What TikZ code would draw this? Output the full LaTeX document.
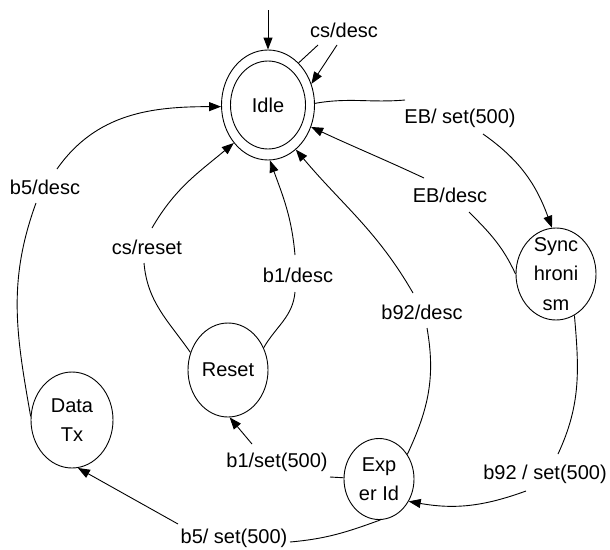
\documentclass[tikz,border=0pt]{standalone}
\usepackage{fontspec}
\setmainfont{Liberation Sans}
\usetikzlibrary{shapes.geometric,arrows.meta}
\begin{document}
\begin{tikzpicture}[x=1pt,y=1pt,
  every node/.style={font=\fontsize{20}{29.5}\selectfont},
  state/.style={ellipse, draw, line width=0.9pt, inner sep=0pt},
  lbl/.style={inner sep=0pt},
  conn/.style={line width=0.9pt},
  arr/.style={conn, -{Triangle[length=12pt,width=9pt]}}]
\useasboundingbox (0,0) rectangle (610,-549);
% states
\node[state, minimum width=93pt, minimum height=110pt] (idle) at (268,-105) {};
\node[state, minimum width=75pt, minimum height=88pt, label=center:Idle] (idlein) at (idle.center) {};
\node[state, minimum width=80pt, minimum height=92pt, label={[align=center]center:Sync\\hroni\\sm}] (sync) at (556,-274) {};
\node[state, minimum width=80pt, minimum height=94pt, label=center:Reset] (reset) at (228,-370) {};
\node[state, minimum width=82pt, minimum height=96pt, label={[align=center]center:Data\\Tx}] (dtx) at (72,-420) {};
\node[state, minimum width=70pt, minimum height=81pt, label={[align=center]center:Exp\\er Id}] (exper) at (379,-479) {};
\coordinate (init) at (268,-10);
% labels
\node[lbl] (lcs) at (344,-30) {cs/desc};
\node[lbl] (leb1) at (460,-118) {EB/ set(500)};
\node[lbl] (leb2) at (450,-195) {EB/desc};
\node[lbl] (l5d) at (45,-187) {b5/desc};
\node[lbl] (lcr) at (147,-247) {cs/reset};
\node[lbl] (lb1d) at (298,-275) {b1/desc};
\node[lbl] (l92d) at (422,-312) {b92/desc};
\node[lbl] (lb1s) at (277,-462) {b1/set(500)};
\node[lbl] (lb5s) at (234,-538) {b5/ set(500)};
\node[lbl] (l92s) at (545,-474) {b92 / set(500)};
% connectors
\draw[arr] (init) -- (idle.north);
\draw[conn] (idle.54) -- ([shift={(-26,-15)}]lcs.center);
\draw[arr] ([shift={(-7,-15)}]lcs.center) -- (idle.26);
\draw[conn] (idle.2) to[out=10,in=185] ([shift={(-55,18)}]leb1.center);
\draw[arr] ([shift={(23,-16)}]leb1.center) to[out=-35,in=110] (sync.95);
\draw[conn] (sync.180) to[out=115,in=-45] ([shift={(19,-17)}]leb2.center);
\draw[arr] ([shift={(-26,17)}]leb2.center) to[out=155,in=-25] (idle.-27);
\draw[conn] (dtx.175) to[out=100,in=-110] ([shift={(-9,-16)}]l5d.center);
\draw[arr] ([shift={(12,18)}]l5d.center) to[out=55,in=180] (idle.182);
\draw[conn] (reset.155) to[out=125,in=-85] ([shift={(-3,-16)}]lcr.center);
\draw[arr] ([shift={(5,19)}]lcr.center) to[out=60,in=220] (idle.228);
\draw[conn] (reset.32) to[out=60,in=-95] ([shift={(-3,-17)}]lb1d.center);
\draw[arr] ([shift={(-3,20)}]lb1d.center) to[out=95,in=-70] (idle.-88);
\draw[conn] (exper.41) to[out=65,in=-80] ([shift={(5,-16)}]l92d.center);
\draw[arr] ([shift={(-9,19)}]l92d.center) to[out=120,in=-50] (idle.-58);
\draw[conn] (exper.178) -- ([shift={(53,-15)}]lb1s.center);
\draw[arr] ([shift={(-25,18)}]lb1s.center) -- (reset.-88);
\draw[conn] (exper.-88) to[out=200,in=5] ([shift={(56,-4)}]lb5s.center);
\draw[arr] ([shift={(-56,14)}]lb5s.center) -- (dtx.-83);
\draw[conn] (sync.-66) to[out=-85,in=65] ([shift={(13,20)}]l92s.center);
\draw[arr] ([shift={(-19,-17)}]l92s.center) to[out=200,in=-10] (exper.-37);
\end{tikzpicture}
\end{document}
